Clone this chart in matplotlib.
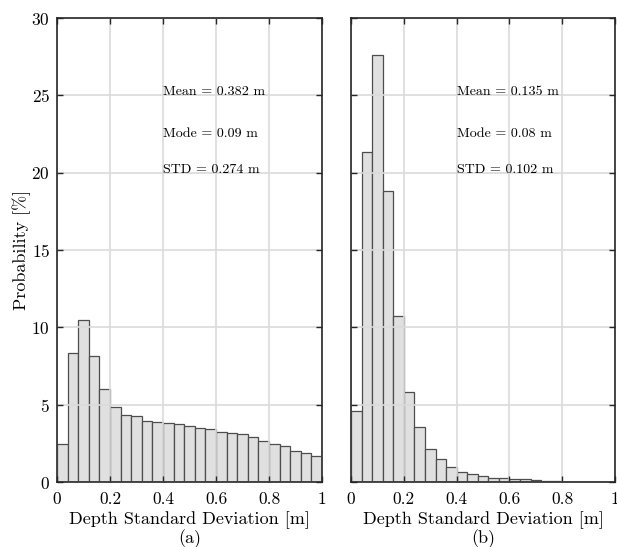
import matplotlib

matplotlib.use("Agg")
import matplotlib.pyplot as plt
import numpy as np

plt.rcParams["font.family"] = "serif"
plt.rcParams["font.serif"] = ["cmr10"]
plt.rcParams["mathtext.fontset"] = "cm"
plt.rcParams["axes.formatter.use_mathtext"] = True

# histogram bins (25 bins over 0..1 m)
bin_edges = np.linspace(0, 1, 26)

# probabilities [%] per bin, panel (a)
prob_a = [2.44, 8.34, 10.5, 8.14, 6.03, 4.84, 4.34, 4.25, 3.93, 3.87,
          3.82, 3.78, 3.65, 3.48, 3.43, 3.26, 3.15, 3.09, 2.89, 2.63,
          2.46, 2.31, 2.03, 1.86, 1.66]
# probabilities [%] per bin, panel (b)
prob_b = [4.6, 21.35, 27.6, 18.85, 10.76, 5.85, 3.54, 2.16, 1.47, 0.95,
          0.67, 0.50, 0.37, 0.28, 0.26, 0.17, 0.17, 0.11, 0.09, 0.05,
          0.03, 0.02, 0.01, 0.01, 0.01]

stats_a = ["Mean = 0.382 m", "Mode = 0.09 m", "STD = 0.274 m"]
stats_b = ["Mean = 0.135 m", "Mode = 0.08 m", "STD = 0.102 m"]
stats_y = [25.2, 22.5, 20.2]

x_ticks = [0, 0.2, 0.4, 0.6, 0.8, 1]
x_tick_labels = ["0", "0.2", "0.4", "0.6", "0.8", "1"]
y_ticks = [0, 5, 10, 15, 20, 25, 30]
panel_labels = ["(a)", "(b)"]

fig = plt.figure(figsize=(6.17, 5.47), dpi=100)
ax_a = fig.add_axes([0.0924, 0.1188, 0.4295, 0.848])
ax_b = fig.add_axes([0.5689, 0.1188, 0.428, 0.848])

for ax, probs, stats, label in [(ax_a, prob_a, stats_a, panel_labels[0]),
                                (ax_b, prob_b, stats_b, panel_labels[1])]:
    lefts = bin_edges[:-1]
    widths = np.diff(bin_edges)
    ax.bar(lefts, probs, width=widths, align="edge", color="#e0e0e0",
           edgecolor="#4d4d4d", linewidth=0.9, zorder=1)
    ax.set_xlim(0, 1)
    ax.set_ylim(0, 30)
    ax.set_xticks(x_ticks)
    ax.set_xticklabels(x_tick_labels)
    ax.set_yticks(y_ticks)
    ax.grid(True, color="#dadada", linewidth=1.2, zorder=2)
    ax.set_axisbelow(False)
    ax.tick_params(direction="in", top=True, right=True, length=4,
                   width=1.0, labelsize=12.5, color="#262626")
    ax.tick_params(axis="x", pad=7)
    ax.tick_params(axis="y", pad=5)
    for spine in ax.spines.values():
        spine.set_linewidth(1.2)
        spine.set_color("#262626")
        spine.set_zorder(3)
    for s, y in zip(stats, stats_y):
        ax.text(0.4, y, s, fontsize=10.1, va="center", ha="left", zorder=4)
    ax.set_xlabel("Depth Standard Deviation [m]", fontsize=13, labelpad=3)
    ax.text(0.5, -0.123, label, transform=ax.transAxes, ha="center",
            va="center", fontsize=13)

ax_a.set_ylabel("Probability [%]", fontsize=13, labelpad=0)
ax_b.set_yticklabels([])

fig.savefig("out.png", dpi=100)
